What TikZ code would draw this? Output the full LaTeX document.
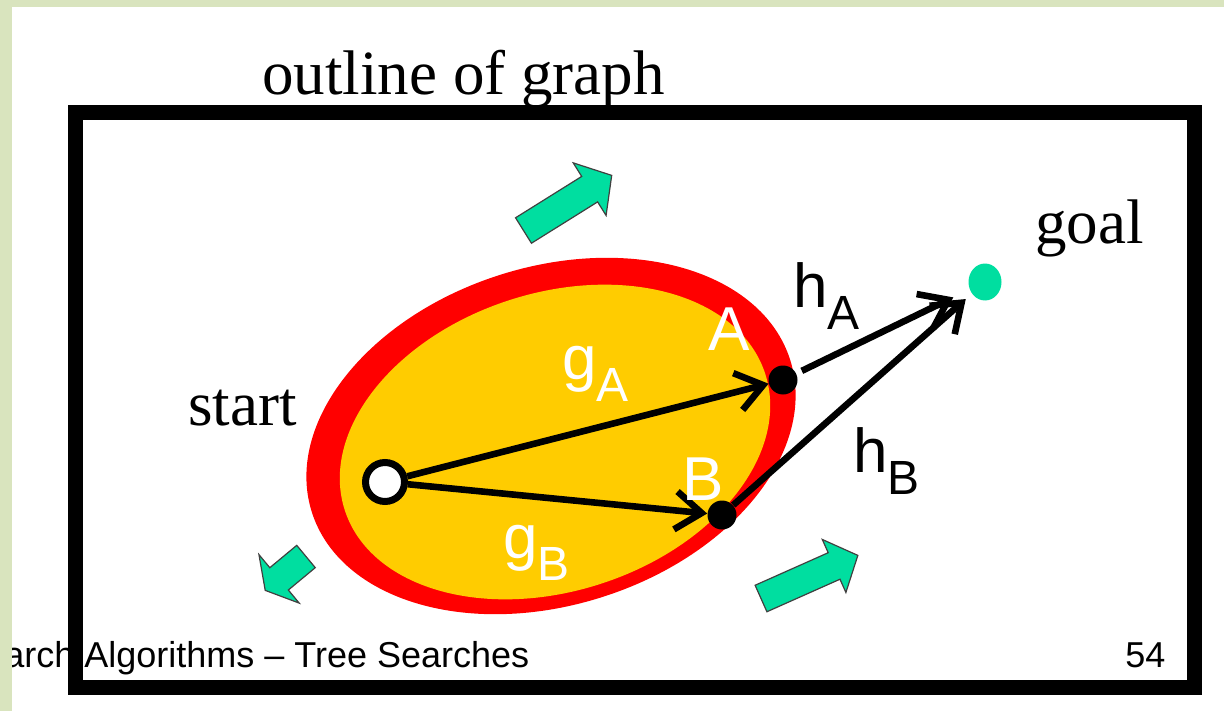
\documentclass[tikz,border=0pt]{standalone}
\usepackage{fontspec}
\setmainfont{Liberation Serif}
\setsansfont{Liberation Sans}
\usetikzlibrary{arrows.meta, positioning, shapes.geometric}

\definecolor{slidegreen}{RGB}{217,228,190}
\definecolor{mint}{RGB}{0,222,160}
\definecolor{gold}{RGB}{255,204,0}

\newcommand{\lowsub}[1]{\raisebox{-11pt}{\fontsize{24}{24}\selectfont #1}}

\tikzset{
  pics/blockarrow/.style n args={4}{code={
    \filldraw[fill=mint, draw=black!75, line width=0.6pt]
      (0,-#2) -- (#1-#4,-#2) -- (#1-#4,-#3) -- (#1,0)
      -- (#1-#4,#3) -- (#1-#4,#2) -- (0,#2) -- cycle;
  }}
}

\begin{document}
\begin{tikzpicture}[x=0.5pt, y=-0.5pt,
  serif/.style={inner sep=0, anchor=base west, font=\fontsize{31.5}{36}\selectfont},
  sans/.style={inner sep=0, anchor=base west, font=\sffamily\fontsize{31}{34}\selectfont},
  foot/.style={inner sep=0, anchor=base west, font=\sffamily\fontsize{18}{20}\selectfont},
  dot/.style={circle, fill=black, inner sep=0, minimum size=14.5pt},
  link/.style={line width=3.3pt, -{Straight Barb[length=13pt,width=19pt]}}]

\useasboundingbox (0,0) rectangle (1224,711);

% Slide background
\fill[slidegreen] (0,0) rectangle (1224,711);
\fill[white] (12,7) rectangle (1224,711);

% Outline of graph
\node[serif] (title) at (262,95) {outline of graph};
\draw[line width=7.5pt] (75.5,112.5) rectangle (1194.5,687.5);

% Explored region
\fill[red, rotate around={17.7:(551,436)}] (551,436) ellipse [x radius=251, y radius=169];
\fill[gold, rotate around={18:(555,442)}] (555,442) ellipse [x radius=221, y radius=149];

% Growth arrows
\pic[rotate=32] at (523.5,230.5) {blockarrow={104}{15}{31}{26}};
\pic[rotate=24] at (761,598.5) {blockarrow={106}{14.5}{29}{26}};
\pic[rotate=219.7] at (306,556.5) {blockarrow={53}{14.5}{31.5}{18}};

% Define nodes
\node[circle, draw, fill=white, line width=3.5pt, minimum size=19.5pt, inner sep=0] (start) at (385,482) {};
\node[dot] (nodeA) at (783,380) {};
\node[dot] (nodeB) at (722,515) {};
\node[ellipse, fill=mint, inner sep=0, minimum width=16.5pt, minimum height=18.5pt] (goal) at (985,282) {};

% Draw edges
\draw[link] (start) -- (nodeA);
\draw[link] (start) -- (nodeB);
\draw[link, shorten <=3pt, shorten >=9pt] (nodeA) -- (goal);
\draw[link, shorten >=4pt] (nodeB) -- (goal);

% Labels
\node[serif] (lstart) at (188,425) {start};
\node[serif] (lgoal) at (1035,243) {goal};
\node[sans, text=white] (labA) at (708,350) {A};
\node[sans, text=white] (labB) at (682,500) {B};
\node[sans, text=white] (lgA) at (562,379) {g\lowsub{A}};
\node[sans, text=white] (lgB) at (503,558) {g\lowsub{B}};
\node[sans] (lhA) at (793,307) {h\lowsub{A}};
\node[sans] (lhB) at (853,472) {h\lowsub{B}};

% Footer
\node[foot] (footer) at (4,667) {arch Algorithms -- Tree Searches};
\node[foot] (page) at (1125,667) {54};
\fill[slidegreen] (0,0) rectangle (12,711);

\end{tikzpicture}
\end{document}
